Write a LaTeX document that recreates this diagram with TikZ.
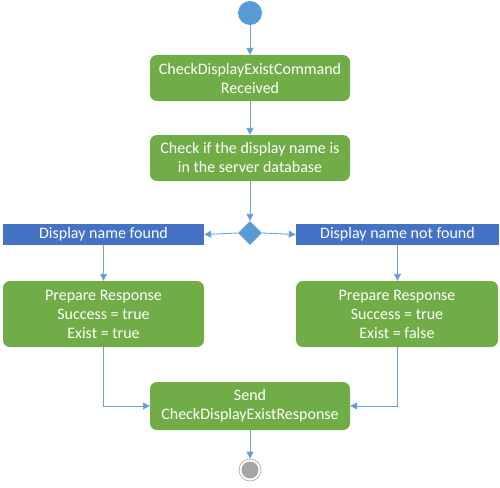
\documentclass[tikz,border=0pt]{standalone}
\usepackage{fontspec}
\setmainfont{Carlito}
\usetikzlibrary{shapes.geometric,arrows.meta}
\definecolor{actgreen}{HTML}{70AD47}
\definecolor{barblue}{HTML}{4472C4}
\definecolor{lightblue}{HTML}{5B9BD5}
\definecolor{linkblue}{HTML}{6FA3D8}
\definecolor{endgray}{HTML}{A5A5A5}
\begin{document}
\begin{tikzpicture}[x=1pt,y=-1pt,
  act/.style={draw=none,fill=actgreen,rounded corners=7pt,text=white,align=center,font=\fontsize{16}{19}\selectfont,inner sep=0pt},
  bar/.style={draw=none,fill=barblue,text=white,font=\fontsize{16}{16}\selectfont,inner sep=0pt},
  link/.style={draw=linkblue,line width=0.9pt,-{Triangle[length=7pt,width=7pt,fill=lightblue]}}
]
\useasboundingbox (0,0) rectangle (500,487);
\node[circle,fill=lightblue,minimum size=24pt,inner sep=0pt] (start) at (250,13) {};
\node[act,minimum width=200pt,minimum height=46pt] (recv) at (250,78) {CheckDisplayExistCommand\\Received};
\node[act,minimum width=200pt,minimum height=46pt] (check) at (250,158) {Check if the display name is\\in the server database};
\node[diamond,fill=lightblue,minimum width=24pt,minimum height=24pt,inner sep=0pt] (dec) at (250,233) {};
\node[bar,minimum width=201pt,minimum height=21pt] (found) at (103.5,234.5) {Display name found};
\node[bar,minimum width=203pt,minimum height=21pt] (notfound) at (397.5,234.5) {Display name not found};
\node[act,minimum width=201pt,minimum height=66pt] (prepT) at (103.5,314) {Prepare Response\\Success = true\\Exist = true};
\node[act,minimum width=202pt,minimum height=66pt] (prepF) at (397,314) {Prepare Response\\Success = true\\Exist = false};
\node[act,minimum width=200pt,minimum height=48pt] (send) at (250,406) {Send\\CheckDisplayExistResponse};
\node[circle,draw=endgray!80,line width=0.8pt,minimum size=22pt,inner sep=0pt] (end) at (250,470) {};
\node[circle,fill=endgray,minimum size=17pt,inner sep=0pt] (endin) at (250,470) {};
\draw[link] (start) -- (recv);
\draw[link] (recv) -- (check);
\draw[link] (check) -- (dec);
\draw[link] (dec.west) -- (found.east);
\draw[link] (dec.east) -- (notfound.east -| notfound.west);
\draw[link] (found) -- (prepT);
\draw[link] (notfound.south) -- (prepF.north -| notfound.south);
\draw[link] (prepT.south) |- (send.west);
\draw[link] (prepF.south) |- (send.east);
\draw[link] (send) -- (end);
\end{tikzpicture}
\end{document}
